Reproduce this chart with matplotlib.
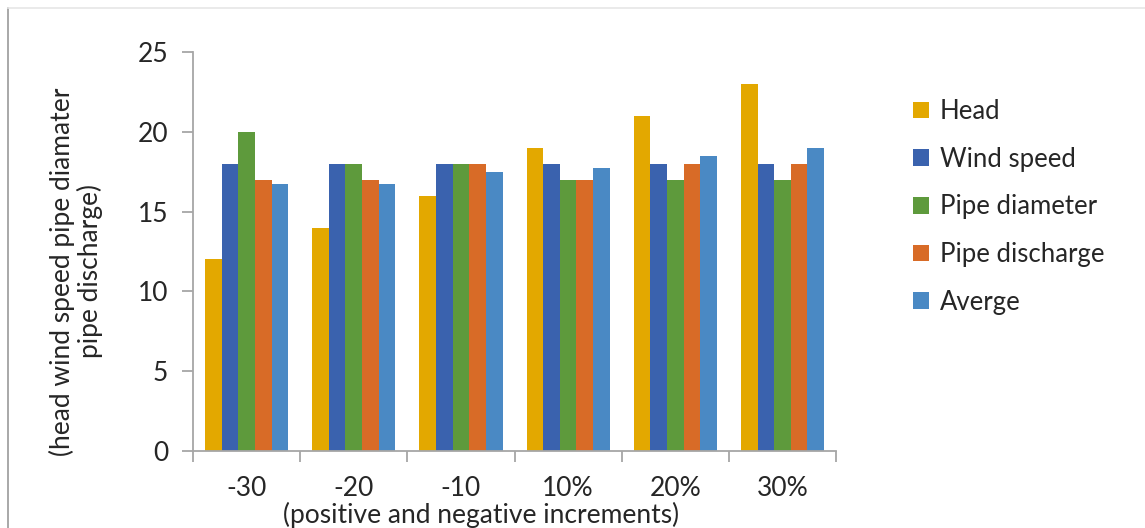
import matplotlib.pyplot as plt
import numpy as np
from matplotlib.lines import Line2D

plt.rcParams['font.family'] = ['Lato', 'DejaVu Sans']

categories = ['-30', '-20', '-10', '10%', '20%', '30%']
head = [12, 14, 16, 19, 21, 23]
wind_speed = [18, 18, 18, 18, 18, 18]
pipe_diameter = [20, 18, 18, 17, 17, 17]
pipe_discharge = [17, 17, 18, 17, 18, 18]
averge = [16.75, 16.75, 17.5, 17.75, 18.5, 19]

series = [('Head', head, '#E3A800'),
          ('Wind speed', wind_speed, '#3A62AE'),
          ('Pipe diameter', pipe_diameter, '#5E9A3C'),
          ('Pipe discharge', pipe_discharge, '#D86B27'),
          ('Averge', averge, '#4A89C4')]

txt = '#262626'
fs = 19

fig = plt.figure(figsize=(11.45, 5.28), dpi=100)
ax = fig.add_axes([0.1686, 0.1458, 0.5616, 0.7557])

x = np.arange(len(categories))
w = 0.155
for i, (name, vals, col) in enumerate(series):
    ax.bar(x + (i - 2) * w, vals, w, color=col, label=name)

ax.set_xlim(-0.5, len(categories) - 0.5)
ax.set_ylim(0, 25)
ax.set_yticks([0, 5, 10, 15, 20, 25])
ax.set_xticks(x)
ax.set_xticklabels(categories)
ax.set_xticks(np.arange(-0.5, len(categories)), minor=True)

for s in ['top', 'right']:
    ax.spines[s].set_visible(False)
for s in ['left', 'bottom']:
    ax.spines[s].set_color('#A6A6A6')
    ax.spines[s].set_linewidth(1.3)

ax.tick_params(axis='y', colors='#A6A6A6', length=8, width=1.3, labelcolor=txt,
               labelsize=fs, pad=10)
ax.tick_params(axis='x', which='major', length=0, labelcolor=txt, labelsize=fs, pad=18)
ax.tick_params(axis='x', which='minor', colors='#A6A6A6', length=8, width=1.3)

ax.set_xlabel('(positive and negative increments)', fontsize=fs, color=txt)
ax.xaxis.set_label_coords(0.448, -0.128)
ax.set_ylabel('(head wind speed pipe diamater\npipe discharge)', fontsize=fs,
              color=txt, linespacing=1.1)
ax.yaxis.set_label_coords(-0.14, 0.45)

ax.legend(loc='upper left', bbox_to_anchor=(1.083, 0.94), frameon=False, fontsize=18.5,
          handlelength=0.62, handleheight=0.62, handletextpad=0.45, labelspacing=0.88,
          labelcolor=txt)

# outer frame of the chart area
fig.add_artist(Line2D([8 / 1145, 8 / 1145], [0, 1 - 8 / 528], transform=fig.transFigure,
                      color='#9A9A9A', lw=1.2))
fig.add_artist(Line2D([8 / 1145, 1], [1 - 8 / 528, 1 - 8 / 528], transform=fig.transFigure,
                      color='#E6E6E6', lw=1.2))

fig.savefig('out.png', dpi=100)
